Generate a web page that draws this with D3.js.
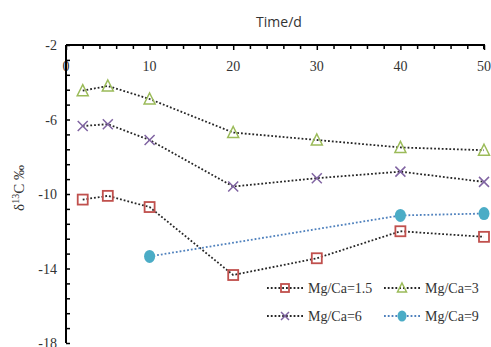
<!DOCTYPE html>
<html>
<head>
<meta charset="utf-8">
<script src="https://cdn.jsdelivr.net/npm/d3@7"></script>
<style>
  body { margin: 0; background: #fff; }
  svg { display: block; }
  .serif { font-family: 'Liberation Serif', 'Times New Roman', serif; }
</style>
</head>
<body>
<div id="chart"></div>
<script>
// data
const days = [2, 5, 10, 20, 30, 40, 50];
const mg15 = [-10.3, -10.1, -10.7, -14.35, -13.45, -12.0, -12.3];
const mg3 = [-4.45, -4.2, -4.9, -6.7, -7.1, -7.5, -7.65];
const mg6 = [-6.35, -6.25, -7.1, -9.6, -9.15, -8.8, -9.35];
const days9 = [10, 40, 50];
const mg9 = [-13.35, -11.15, -11.05];
const xTicks = [0, 10, 20, 30, 40, 50];
const yTicks = [-2, -6, -10, -14, -18];

const width = 491, height = 347;
const plotLeft = 66, plotTop = 45, plotRight = 484, plotBottom = 343;

const svg = d3.select('#chart').append('svg')
  .attr('width', width)
  .attr('height', height);

const x = d3.scaleLinear().domain([0, 50]).range([plotLeft, plotRight]);
const y = d3.scaleLinear().domain([-2, -18]).range([plotTop, plotBottom]);

// x axis on top, ticks pointing inward
const xAxis = svg.append('g')
  .attr('transform', `translate(0,${plotTop})`)
  .call(d3.axisBottom(x).tickValues(d3.range(0, 51, 2)).tickSize(4).tickFormat(''));
xAxis.select('.domain').attr('d', `M${plotLeft},0H${plotRight}V4`).attr('stroke-width', 2);
xAxis.selectAll('.tick line').attr('stroke-width', 1.5);
xAxis.selectAll('.tick').filter(d => d % 10 == 0).select('line').attr('y2', 5);

svg.append('g').selectAll('text')
  .data(xTicks)
  .enter()
  .append('text')
    .attr('class', 'serif')
    .attr('x', d => x(d))
    .attr('y', plotTop + 26)
    .attr('text-anchor', 'middle')
    .attr('font-size', 14)
    .attr('fill', '#333')
    .text(d => d);

// y axis, ticks pointing inward
const yMinor = d3.range(0, 21).map(i => -2 - i * 0.8);
const yAxis = svg.append('g')
  .attr('transform', `translate(${plotLeft},0)`)
  .call(d3.axisRight(y).tickValues(yMinor).tickSize(4).tickFormat(''));
yAxis.select('.domain').attr('d', `M0,${plotTop}V${plotBottom}`).attr('stroke-width', 2);
yAxis.selectAll('.tick line').attr('stroke-width', 1.5);

svg.append('g').selectAll('text')
  .data(yTicks)
  .enter()
  .append('text')
    .attr('class', 'serif')
    .attr('x', plotLeft - 9)
    .attr('y', d => y(d) + 5)
    .attr('text-anchor', 'end')
    .attr('font-size', 14)
    .attr('fill', '#333')
    .text(d => d);

// titles
svg.append('text')
  .attr('x', 279)
  .attr('y', 27)
  .attr('text-anchor', 'middle')
  .style('font-family', "'Open Sans', 'DejaVu Sans', sans-serif")
  .attr('font-size', 14)
  .attr('fill', '#333')
  .text('Time/d');

const yt = svg.append('text')
  .attr('class', 'serif')
  .attr('transform', `translate(24,188) rotate(-90)`)
  .attr('text-anchor', 'middle')
  .attr('font-size', 15)
  .attr('fill', '#333');
yt.append('tspan').text('δ');
yt.append('tspan').attr('font-size', 10).attr('dy', -5).text('13');
yt.append('tspan').attr('dy', 5).text('C ‰');

const line = d3.line().x(d => x(d[0])).y(d => y(d[1]));

const series = [
  { name: 'Mg/Ca=1.5', xs: days, ys: mg15, lineColor: '#262626', color: '#C0504D', shape: 'square' },
  { name: 'Mg/Ca=3', xs: days, ys: mg3, lineColor: '#262626', color: '#9BBB59', shape: 'triangle' },
  { name: 'Mg/Ca=6', xs: days, ys: mg6, lineColor: '#262626', color: '#8064A2', shape: 'cross' },
  { name: 'Mg/Ca=9', xs: days9, ys: mg9, lineColor: '#4F81BD', color: '#4BACC6', shape: 'circle' }
];

function drawMarker(g, shape, color, cx, cy, s) {
  if (shape == 'square') {
    g.append('rect').attr('x', cx - s).attr('y', cy - s).attr('width', 2 * s).attr('height', 2 * s)
      .attr('fill', 'none').attr('stroke', color).attr('stroke-width', 1.8);
  } else if (shape == 'triangle') {
    g.append('path').attr('d', `M${cx},${cy - s - 1}L${cx + s + 0.5},${cy + s}L${cx - s - 0.5},${cy + s}Z`)
      .attr('fill', 'none').attr('stroke', color).attr('stroke-width', 1.5);
  } else if (shape == 'cross') {
    g.append('path').attr('d', `M${cx - s},${cy - s}L${cx + s},${cy + s}M${cx - s},${cy + s}L${cx + s},${cy - s}`)
      .attr('stroke', color).attr('stroke-width', 1.5);
  } else {
    g.append('ellipse').attr('cx', cx).attr('cy', cy).attr('rx', s + 0.5).attr('ry', s + 1.5)
      .attr('fill', color);
  }
}

series.forEach(s => {
  const pts = s.xs.map((d, i) => [d, s.ys[i]]);
  svg.append('path')
    .datum(pts)
    .attr('d', line)
    .attr('fill', 'none')
    .attr('stroke', s.lineColor)
    .attr('stroke-width', 1.8)
    .attr('stroke-dasharray', '1.8,2');
  const g = svg.append('g');
  pts.forEach(p => drawMarker(g, s.shape, s.color, x(p[0]), y(p[1]), 5));
});

// legend
const legendPos = [[267, 288], [384, 288], [267, 316], [384, 316]];
series.forEach((s, i) => {
  const [lx, ly] = legendPos[i];
  const g = svg.append('g');
  g.append('line')
    .attr('x1', lx).attr('x2', lx + 36).attr('y1', ly).attr('y2', ly)
    .attr('stroke', s.lineColor)
    .attr('stroke-width', 1.8)
    .attr('stroke-dasharray', '1.8,2');
  drawMarker(g, s.shape, s.color, lx + 18, ly, 4);
  g.append('text')
    .attr('class', 'serif')
    .attr('x', lx + 41)
    .attr('y', ly + 5)
    .attr('font-size', 14)
    .attr('fill', '#333')
    .text(s.name);
});
</script>
</body>
</html>
